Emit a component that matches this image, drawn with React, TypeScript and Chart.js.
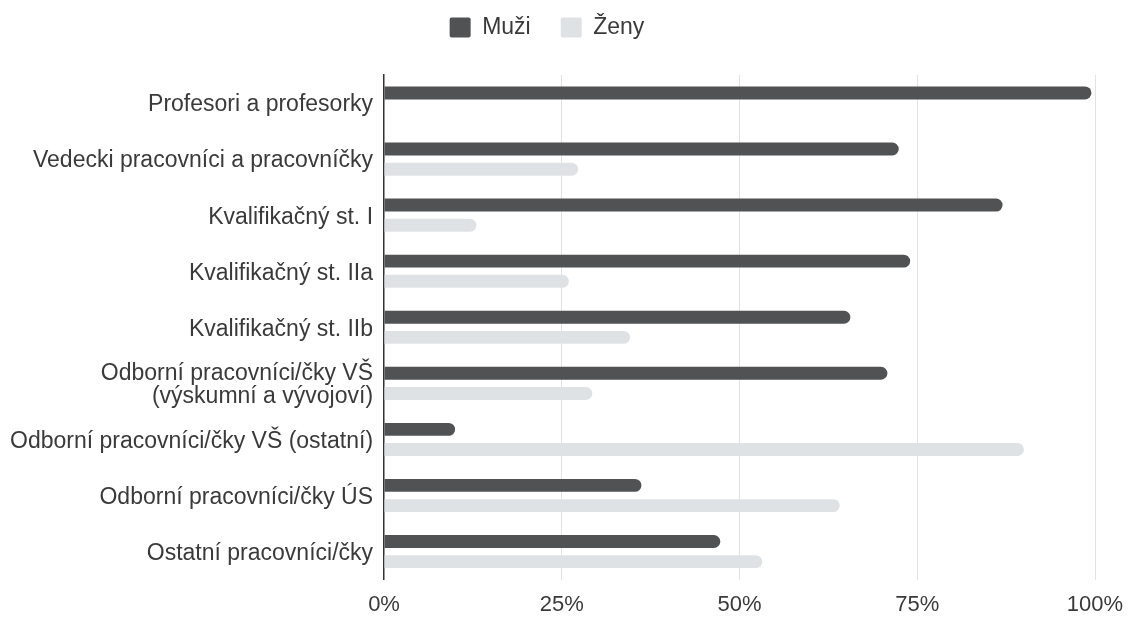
import React, { useEffect, useRef } from "react";
import { Chart, registerables } from "chart.js";

Chart.register(...registerables);

const categories: (string | string[])[] = [
  "Profesori a profesorky",
  "Vedecki pracovníci a pracovníčky",
  "Kvalifikačný st. I",
  "Kvalifikačný st. IIa",
  "Kvalifikačný st. IIb",
  ["Odborní pracovníci/čky VŠ", "(výskumní a vývojoví)"],
  "Odborní pracovníci/čky VŠ (ostatní)",
  "Odborní pracovníci/čky ÚS",
  "Ostatní pracovníci/čky",
];

const muzi = [99.5, 72.4, 87.0, 74.0, 65.6, 70.8, 10.0, 36.2, 47.3];
const zeny = [0, 27.3, 13.0, 26.0, 34.6, 29.3, 90.0, 64.1, 53.2];

const xTicks = [0, 25, 50, 75, 100];

const FONT = "'Liberation Sans', Arial, sans-serif";

export default function App() {
  const ref = useRef<HTMLCanvasElement | null>(null);

  useEffect(() => {
    if (!ref.current) return;
    const legendSpacer = {
      id: "legendSpacer",
      beforeInit(chart: any) {
        const orig = chart.legend.fit;
        chart.legend.fit = function fit() {
          orig.bind(chart.legend)();
          this.height += 26;
        };
      },
    };
    const chart = new Chart(ref.current, {
      type: "bar",
      data: {
        labels: categories,
        datasets: [
          {
            label: "Muži",
            data: muzi,
            backgroundColor: "#505254",
            borderRadius: 7,
            borderSkipped: "start",
            categoryPercentage: 0.72,
            barPercentage: 0.64,
          },
          {
            label: "Ženy",
            data: zeny,
            backgroundColor: "#dfe2e5",
            borderRadius: 7,
            borderSkipped: "start",
            categoryPercentage: 0.72,
            barPercentage: 0.64,
          },
        ],
      },
      options: {
        indexAxis: "y",
        animation: false,
        responsive: true,
        maintainAspectRatio: false,
        layout: { padding: { left: -9, right: 28, top: -22, bottom: -14 } },
        plugins: {
          legend: {
            position: "top",
            labels: {
              font: { family: FONT, size: 23 },
              color: "#3a3a3a",
              boxWidth: 21,
              boxHeight: 20,
              padding: 30,
              useBorderRadius: true,
              borderRadius: 2,
            },
          },
          tooltip: { enabled: false },
        },
        scales: {
          x: {
            min: 0,
            max: 100,
            afterBuildTicks(scale: any) {
              scale.ticks = xTicks.map((v) => ({ value: v }));
            },
            afterFit(scale: any) {
              scale.paddingRight = 0;
            },
            ticks: {
              callback: (v: any) => v + "%",
              font: { family: FONT, size: 22 },
              color: "#3a3a3a",
              padding: 12,
              maxRotation: 0,
            },
            grid: {
              color: (ctx: any) => (ctx.tick && ctx.tick.value === 0 ? "rgba(0,0,0,0)" : "#e2e2e2"),
              drawTicks: false,
            },
            border: { display: false },
          },
          y: {
            ticks: {
              font: { family: FONT, size: 23, lineHeight: 1.0 },
              color: "#3a3a3a",
              padding: 11,
              labelOffset: 2,
            },
            grid: { display: false, drawTicks: false },
            border: { display: true, color: "#333", width: 1.5 },
          },
        },
      },
      plugins: [legendSpacer],
    } as any);
    return () => chart.destroy();
  }, []);

  return (
    <div style={{ width: "100%", height: 608, position: "relative" }}>
      <canvas ref={ref} />
    </div>
  );
}
